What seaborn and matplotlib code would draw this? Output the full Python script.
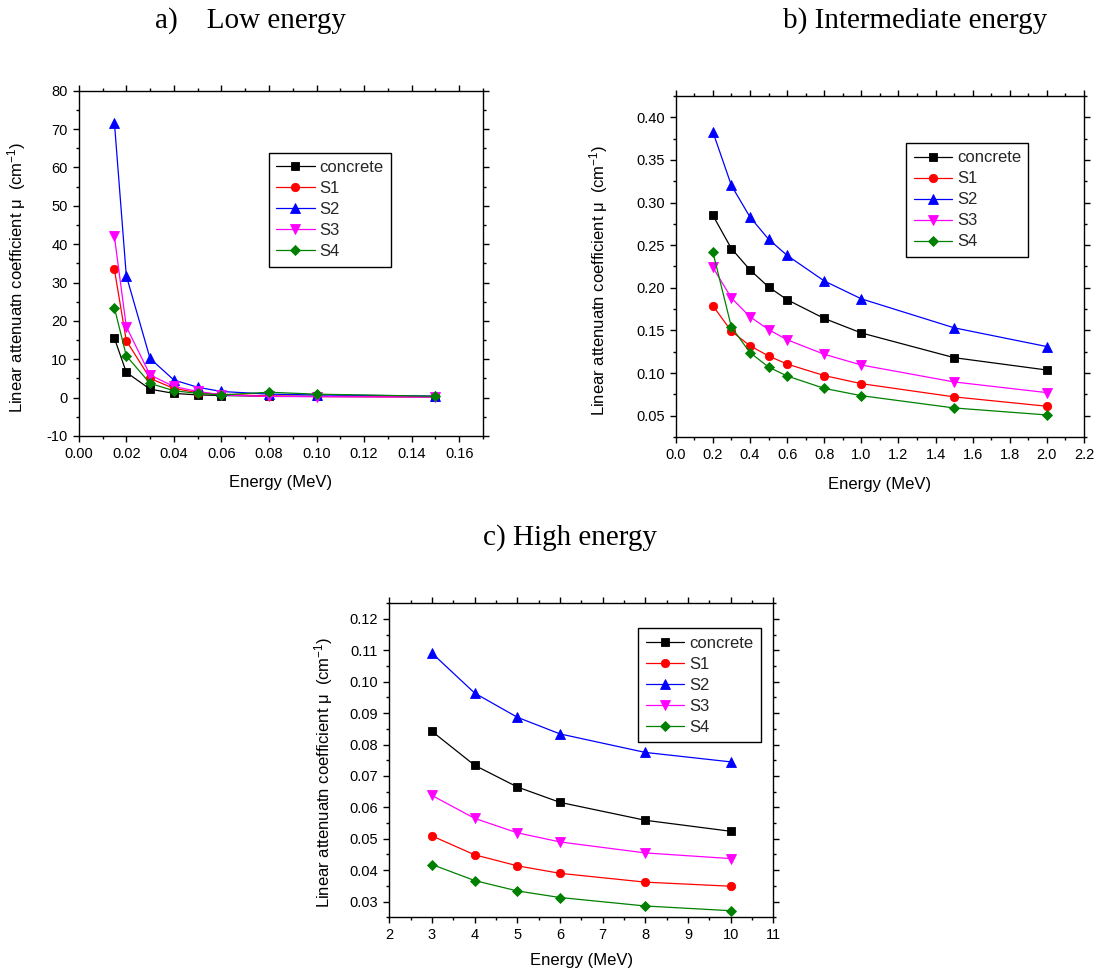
import numpy as np
import pandas as pd
import matplotlib
matplotlib.use("Agg")
import matplotlib.pyplot as plt
from matplotlib.ticker import MultipleLocator, FormatStrFormatter
import seaborn as sns

# ---- data: linear attenuation coefficient (cm^-1) vs photon energy (MeV) ----
series_names = ["concrete", "S1", "S2", "S3", "S4"]

energy_low = [0.015, 0.02, 0.03, 0.04, 0.05, 0.06, 0.08, 0.10, 0.15]
low_concrete = [15.5, 6.6, 2.2, 1.1, 0.7, 0.55, 0.35, 0.30, 0.20]
low_s1 = [33.4, 14.85, 5.0, 2.4, 1.3, 0.9, 0.4, 0.30, 0.20]
low_s2 = [71.7, 31.8, 10.2, 4.6, 2.7, 1.6, 0.9, 0.70, 0.40]
low_s3 = [42.0, 18.5, 5.9, 2.9, 1.6, 0.7, 0.3, 0.25, 0.15]
low_s4 = [23.4, 10.9, 3.7, 1.8, 1.1, 0.7, 1.4, 0.90, 0.35]

energy_mid = [0.2, 0.3, 0.4, 0.5, 0.6, 0.8, 1.0, 1.5, 2.0]
mid_concrete = [0.285, 0.246, 0.221, 0.201, 0.186, 0.164, 0.147, 0.118, 0.1035]
mid_s1 = [0.179, 0.149, 0.132, 0.120, 0.1105, 0.097, 0.0875, 0.072, 0.061]
mid_s2 = [0.383, 0.320, 0.283, 0.257, 0.238, 0.208, 0.187, 0.153, 0.131]
mid_s3 = [0.224, 0.188, 0.166, 0.151, 0.139, 0.122, 0.1094, 0.0895, 0.077]
mid_s4 = [0.242, 0.154, 0.124, 0.107, 0.0965, 0.082, 0.0734, 0.059, 0.0508]

energy_high = [3, 4, 5, 6, 8, 10]
high_concrete = [0.0842, 0.0734, 0.0665, 0.0616, 0.0559, 0.0524]
high_s1 = [0.0509, 0.0449, 0.0414, 0.0390, 0.0362, 0.0349]
high_s2 = [0.1091, 0.0964, 0.0887, 0.0834, 0.0775, 0.0745]
high_s3 = [0.0638, 0.0565, 0.0519, 0.0490, 0.0455, 0.0437]
high_s4 = [0.0418, 0.0367, 0.0334, 0.0313, 0.0286, 0.0271]

panel_titles = ["a)    Low energy", "b) Intermediate energy", "c) High energy"]
x_label = "Energy (MeV)"
y_label = "Linear attenuatn coefficient \u03bc  (cm$^{-1}$)"

# ---- style ----
colors = {"concrete": "#000000", "S1": "#ff0000", "S2": "#0000ff",
          "S3": "#ff00ff", "S4": "#008000"}
markers = {"concrete": "s", "S1": "o", "S2": "^", "S3": "v", "S4": "D"}
msizes = {"concrete": 5.5, "S1": 6, "S2": 6.5, "S3": 6.5, "S4": 5}

sns.set_theme(style="ticks")
plt.rcParams["font.family"] = ["Liberation Sans", "DejaVu Sans"]
plt.rcParams["axes.unicode_minus"] = False
plt.rcParams["mathtext.fontset"] = "custom"
plt.rcParams["mathtext.rm"] = "Liberation Sans"
plt.rcParams["mathtext.it"] = "Liberation Sans:italic"


def long_table(energy, cols):
    df = pd.DataFrame({"Energy": energy})
    for name, vals in zip(series_names, cols):
        df[name] = vals
    return df.melt(id_vars="Energy", var_name="Sample", value_name="mu")


def draw_panel(ax, df, xlim, ylim, xmaj, xmin, ymaj, ymin, xfmt, yfmt,
               leg_anchor, ylab_x, xlab_y):
    for name in series_names:
        sub = df[df["Sample"] == name]
        sns.lineplot(data=sub, x="Energy", y="mu", ax=ax, color=colors[name],
                     marker=markers[name], markersize=msizes[name],
                     markeredgecolor=colors[name], markeredgewidth=0.6,
                     linewidth=0.9, label=name)
    ax.set_xlim(*xlim)
    ax.set_ylim(*ylim)
    ax.xaxis.set_major_locator(MultipleLocator(xmaj))
    ax.xaxis.set_minor_locator(MultipleLocator(xmin))
    ax.yaxis.set_major_locator(MultipleLocator(ymaj))
    ax.yaxis.set_minor_locator(MultipleLocator(ymin))
    ax.xaxis.set_major_formatter(FormatStrFormatter(xfmt))
    ax.yaxis.set_major_formatter(FormatStrFormatter(yfmt))
    for side in ["top", "right", "left", "bottom"]:
        ax.spines[side].set_visible(True)
        ax.spines[side].set_linewidth(1.0)
        ax.spines[side].set_color("black")
    ax.tick_params(which="both", direction="out", top=True, right=True,
                   labeltop=False, labelright=False, color="black", width=1.0)
    ax.tick_params(which="major", length=4, pad=4, labelsize=10.5, labelcolor="black")
    ax.tick_params(which="minor", length=2.2)
    ax.set_xlabel(x_label, fontsize=12, color="black")
    ax.set_ylabel(y_label, fontsize=12, color="black")
    ax.xaxis.set_label_coords(0.5, xlab_y)
    ax.yaxis.set_label_coords(ylab_x, 0.46)
    leg = ax.legend(loc="upper left", bbox_to_anchor=leg_anchor, fontsize=12,
                    frameon=True, fancybox=False, framealpha=1, edgecolor="black",
                    borderaxespad=0, handlelength=2.3, handletextpad=0.3,
                    labelspacing=0.36, borderpad=0.45)
    leg.get_frame().set_linewidth(1.0)
    ax.grid(False)


fig = plt.figure(figsize=(10.98, 9.71), dpi=100)
fig.patch.set_facecolor("white")

ax_a = fig.add_axes([0.0717, 0.5510, 0.3682, 0.3556])
ax_b = fig.add_axes([0.6154, 0.5500, 0.3719, 0.3512])
ax_c = fig.add_axes([0.3546, 0.0553, 0.3497, 0.3234])

draw_panel(ax_a, long_table(energy_low, [low_concrete, low_s1, low_s2, low_s3, low_s4]),
           (0, 0.17), (-10, 80), 0.02, 0.01, 10, 5, "%.2f", "%d",
           (0.470, 0.8205), -0.125, -0.113)
draw_panel(ax_b, long_table(energy_mid, [mid_concrete, mid_s1, mid_s2, mid_s3, mid_s4]),
           (0, 2.2), (0.025, 0.425), 0.2, 0.1, 0.05, 0.025, "%.1f", "%.2f",
           (0.564, 0.862), -0.161, -0.116)
draw_panel(ax_c, long_table(energy_high, [high_concrete, high_s1, high_s2, high_s3, high_s4]),
           (2, 11), (0.025, 0.125), 1, 0.5, 0.01, 0.005, "%d", "%.2f",
           (0.648, 0.921), -0.141, -0.114)

title_kw = dict(fontsize=21, family=["Liberation Serif", "DejaVu Serif"],
                color="black", va="baseline", ha="left")
fig.text(155 / 1098, 1 - 28 / 971, panel_titles[0], **title_kw)
fig.text(783 / 1098, 1 - 28 / 971, panel_titles[1], **title_kw)
fig.text(483 / 1098, 1 - 545 / 971, panel_titles[2], **title_kw)

fig.savefig("out.png", dpi=100, facecolor="white")
